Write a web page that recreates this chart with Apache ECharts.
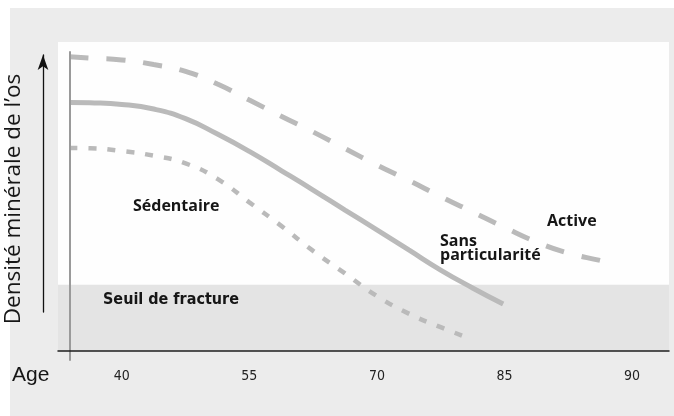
<!DOCTYPE html>
<html>
<head>
<meta charset="utf-8">
<script src="https://cdn.jsdelivr.net/npm/echarts@6/dist/echarts.min.js"></script>
<style>
  html, body { margin: 0; padding: 0; background: #fff; }
  #chart { width: 674px; height: 416px; }
</style>
</head>
<body>
<div id="chart"></div>
<script>
// x runs in "label slot" units (0 = first age label, 1 = next, ...) because the
// original axis labels are evenly spaced but not evenly valued. y is 0..100.
const ageLabels = ['40', '55', '70', '85', '90'];
const fractureThreshold = 21.4;

const activeCurve = [
  [-0.41, 95.2], [-0.25, 94.8], [0, 94.2], [0.25, 92.7], [0.5, 90.5],
  [0.75, 86.4], [1, 81.2], [1.25, 76.0], [1.5, 70.9], [1.75, 65.5],
  [2, 60.2], [2.25, 55.2], [2.5, 50.0], [2.75, 45.0], [3, 40.0],
  [3.25, 35.3], [3.5, 31.7], [3.75, 29.3], [3.8, 28.8],
];
const averageCurve = [
  [-0.41, 80.4], [-0.25, 80.3], [0, 79.8], [0.25, 78.3], [0.5, 75.2],
  [0.75, 70.2], [1, 64.6], [1.25, 58.4], [1.5, 52.1], [1.75, 45.6],
  [2, 39.2], [2.25, 32.7], [2.5, 26.2], [2.75, 20.4], [2.99, 15.2],
];
const sedentaryCurve = [
  [-0.41, 65.7], [-0.25, 65.6], [0, 64.7], [0.25, 63.2], [0.5, 60.7],
  [0.75, 55.7], [1, 48.1], [1.25, 40.5], [1.5, 32.4], [1.75, 25.1],
  [2, 17.8], [2.25, 12.1], [2.5, 7.7], [2.7, 4.5],
];

const yTitle = 'Densité minérale de l\u2019os';
const xTitle = 'Age';
const notes = {
  sedentary: 'Sédentaire',
  average: 'Sans\nparticularité',
  active: 'Active',
  fracture: 'Seuil de fracture',
};

const lineGray = '#bababa';
const ink = '#161616';

const chart = echarts.init(document.getElementById('chart'));

const hiddenAxis = (grid, extra) => Object.assign({
  gridIndex: grid, show: false, type: 'value', min: 0, max: 100,
}, extra || {});

const note = (x, y, text, font, extra) => ({
  type: 'text', x, y, z: 50,
  style: Object.assign({ text, font, fill: ink, verticalAlign: 'middle' }, extra || {}),
});

chart.setOption({
  animation: false,
  backgroundColor: '#ffffff',
  grid: [
    // plot area (white) with the fracture band inside
    { left: 58, right: 5, top: 42, bottom: 65, show: true, backgroundColor: '#fefefe', borderWidth: 0, outerBoundsMode: 'none' },
    // grey vertical axis line, runs a little past the x axis
    { left: 70, right: 5, top: 52, bottom: 56, outerBoundsMode: 'none' },
    // the arrow + y title
    { left: 43, right: 5, top: 55, bottom: 104, outerBoundsMode: 'none' },
  ],
  xAxis: [
    {
      gridIndex: 0, type: 'value', min: -0.5, max: 4.29, interval: 0.5, z: 10,
      axisLine: { lineStyle: { color: '#1e1e1e', width: 1.5 } },
      axisTick: { show: false },
      splitLine: { show: false },
      axisLabel: {
        margin: 18, color: '#222', fontSize: 14,
        fontFamily: '"Liberation Sans Narrow", "DejaVu Sans Condensed", sans-serif',
        formatter: (v) => {
          const i = Math.round(v);
          return Math.abs(v - i) < 1e-6 && ageLabels[i] !== undefined ? ageLabels[i] : '';
        },
      },
    },
    hiddenAxis(1),
    hiddenAxis(2),
  ],
  yAxis: [
    hiddenAxis(0),
    {
      gridIndex: 1, type: 'value', min: 0, max: 100, z: 10,
      axisLine: { show: true, lineStyle: { color: '#9a9a9a', width: 2 } },
      axisTick: { show: false }, axisLabel: { show: false }, splitLine: { show: false },
    },
    {
      gridIndex: 2, type: 'value', min: 0, max: 100, z: 10,
      axisLine: {
        show: true, symbol: ['none', 'arrow'], symbolSize: [8, 15],
        lineStyle: { color: '#111', width: 1.3 },
      },
      axisTick: { show: false }, axisLabel: { show: false }, splitLine: { show: false },
      name: yTitle, nameLocation: 'middle', nameGap: 18,
      nameTextStyle: {
        color: ink, fontSize: 22.5, fontFamily: '"Open Sans", sans-serif',
        padding: [0, 31, 0, 0],
      },
    },
  ],
  graphic: [
    { type: 'rect', z: -10, shape: { x: 10, y: 8, width: 664, height: 408 }, style: { fill: '#ececec' } },
    note(12, 375, xTitle, '21px "Liberation Sans", sans-serif'),
    note(133, 206, notes.sedentary, 'bold 16px "Open Sans", sans-serif'),
    note(103, 300, notes.fracture, 'bold 16px "Liberation Sans Narrow", "DejaVu Sans Condensed", sans-serif'),
    note(547, 221, notes.active, 'bold 16px "Open Sans", sans-serif'),
    note(440, 248, notes.average, 'bold 16px "Open Sans", sans-serif', { lineHeight: 14 }),
  ],
  series: [
    {
      name: notes.sedentary, type: 'line', xAxisIndex: 0, yAxisIndex: 0,
      data: sedentaryCurve, smooth: 0.5, symbol: 'none', silent: true,
      lineStyle: { color: lineGray, width: 4.5, type: [8, 11], cap: 'butt' },
      markArea: {
        silent: true,
        itemStyle: { color: '#e4e4e4' },
        data: [[{ yAxis: 0 }, { yAxis: fractureThreshold }]],
      },
    },
    {
      name: 'Sans particularité', type: 'line', xAxisIndex: 0, yAxisIndex: 0,
      data: averageCurve, smooth: 0.5, symbol: 'none', silent: true,
      lineStyle: { color: lineGray, width: 5, cap: 'butt' },
    },
    {
      name: notes.active, type: 'line', xAxisIndex: 0, yAxisIndex: 0,
      data: activeCurve, smooth: 0.5, symbol: 'none', silent: true,
      lineStyle: { color: lineGray, width: 5, type: [19, 18], cap: 'butt' },
    },
  ],
});
</script>
</body>
</html>
